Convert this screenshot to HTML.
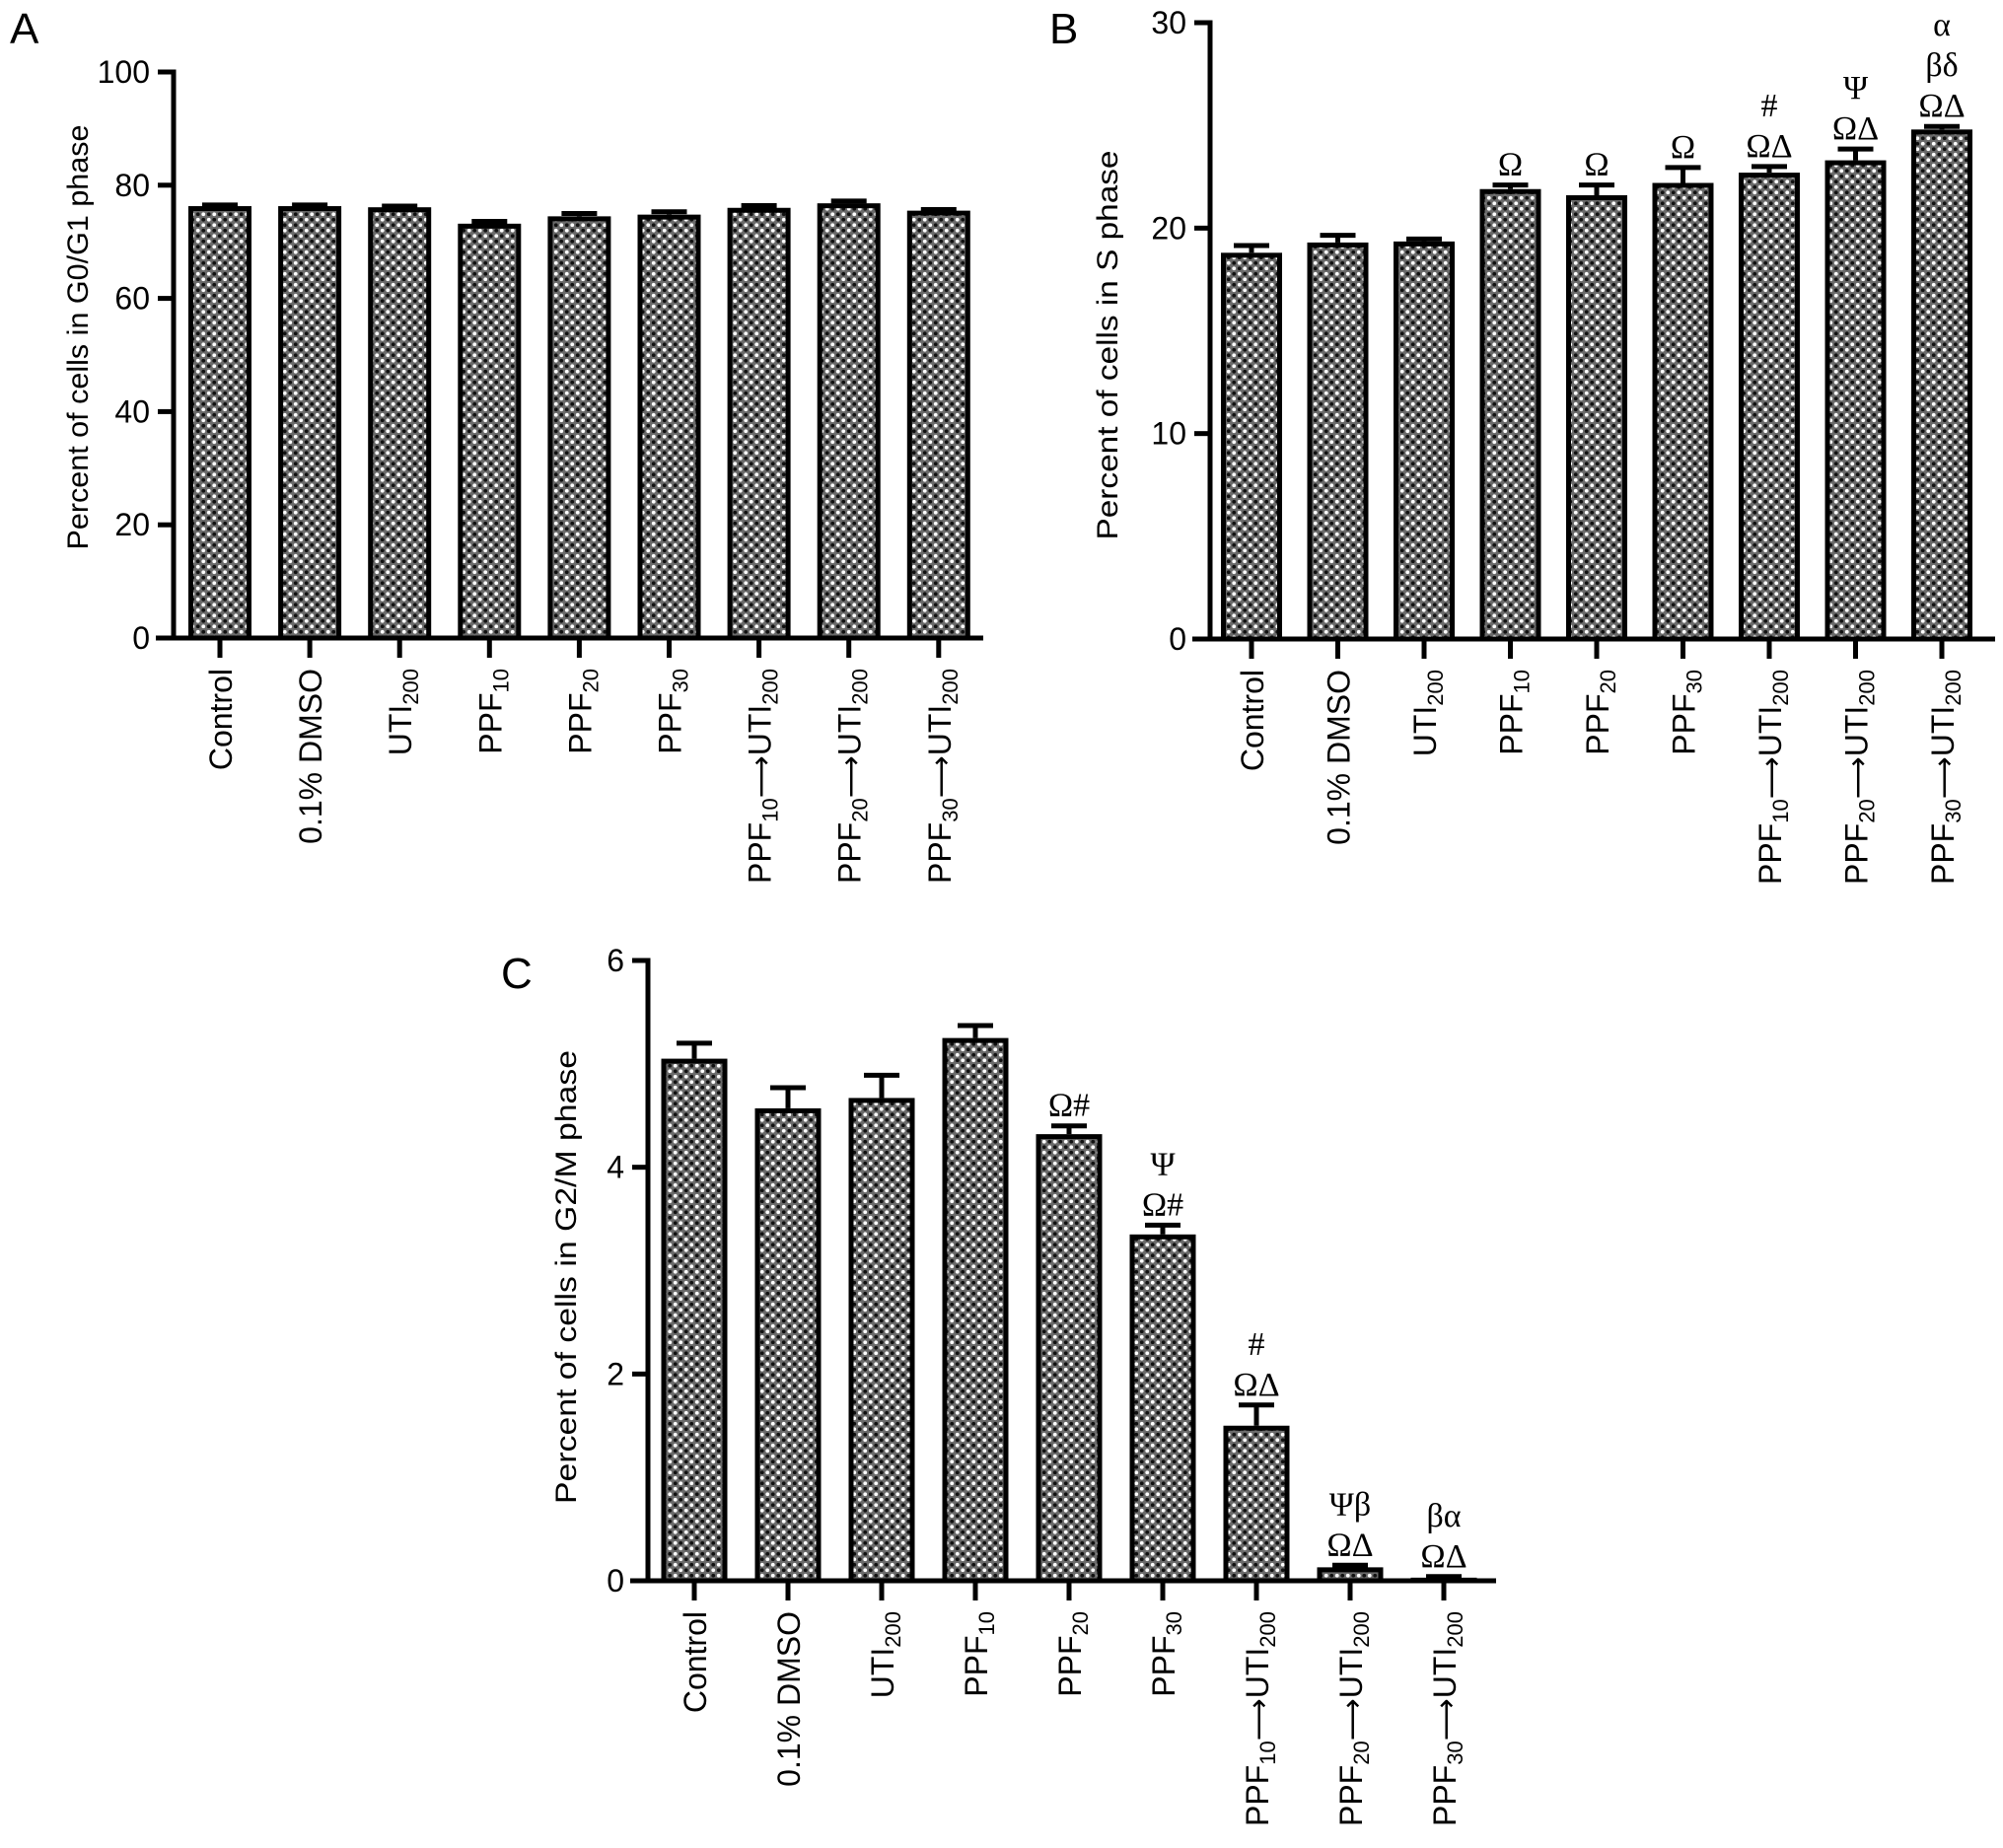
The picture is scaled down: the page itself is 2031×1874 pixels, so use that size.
<!DOCTYPE html>
<html><head><meta charset="utf-8">
<style>
html,body{margin:0;padding:0;background:#fff;}
svg{display:block;font-family:"Liberation Sans",Arial,sans-serif;}
</style></head>
<body>
<svg id="fig" width="2031" height="1874" viewBox="0 0 2031 1874" xmlns="http://www.w3.org/2000/svg">
<defs>
<pattern id="dots" patternUnits="userSpaceOnUse" width="11" height="11">
<rect width="11" height="11" fill="#6a6a6a"/>
<circle cx="2.75" cy="2.75" r="1.9" fill="#fff"/>
<circle cx="8.25" cy="8.25" r="1.9" fill="#fff"/>
<circle cx="8.25" cy="2.75" r="1.9" fill="#111"/>
<circle cx="2.75" cy="8.25" r="1.9" fill="#111"/>
</pattern>
</defs>
</svg>
<script>
const categories = [["Control"],["0.1% DMSO"],["UTI","200"],["PPF","10"],["PPF","20"],["PPF","30"],["PPF","10","→UTI","200"],["PPF","20","→UTI","200"],["PPF","30","→UTI","200"]];
const valuesA = [76.3, 76.3, 76.1, 73.2, 74.5, 74.8, 76.0, 76.8, 75.5];
const errorsA = [0.2, 0.2, 0.2, 0.4, 0.5, 0.5, 0.4, 0.4, 0.2];
const ticksA = [0, 20, 40, 60, 80, 100];
const valuesB = [18.8, 19.3, 19.35, 21.9, 21.6, 22.2, 22.7, 23.3, 24.8];
const errorsB = [0.35, 0.35, 0.12, 0.2, 0.5, 0.75, 0.3, 0.55, 0.15];
const ticksB = [0, 10, 20, 30];
const annotB = [[],[],[],["Ω"],["Ω"],["Ω"],["#","ΩΔ"],["Ψ","ΩΔ"],["α","βδ","ΩΔ"]];
const valuesC = [5.05, 4.57, 4.67, 5.25, 4.32, 3.35, 1.5, 0.13, 0.03];
const errorsC = [0.15, 0.2, 0.22, 0.12, 0.08, 0.09, 0.2, 0.02, 0.01];
const ticksC = [0, 2, 4, 6];
const annotC = [[],[],[],[],["Ω#"],["Ψ","Ω#"],["#","ΩΔ"],["Ψβ","ΩΔ"],["βα","ΩΔ"]];

const NS = "http://www.w3.org/2000/svg";
const svg = document.getElementById("fig");
function mk(tag, attrs, parent){
  const e = document.createElementNS(NS, tag);
  for (const k in attrs) e.setAttribute(k, attrs[k]);
  (parent||svg).appendChild(e);
  return e;
}

function panel(cfg){
  const g = mk("g", {});
  
  
  const ymin = cfg.ticks[0], ymax = cfg.ticks[cfg.ticks.length-1];
  const yScale = v => cfg.y0 - (v - ymin) / (ymax - ymin) * (cfg.y0 - cfg.yTop);
  const xScale = i => cfg.x1 + i * cfg.step;
  const L = mk("text", {x: cfg.letter[0], y: cfg.letter[1], "font-size": 44, fill: "#000"}, g);
  
  
  L.textContent = cfg.letterText;
  cfg.values.forEach((v, i) => {
    const cx = xScale(i), top = yScale(v), et = yScale(v + cfg.errors[i]);
    const w = cfg.barW;
    const eb = mk("line", {x1: cx, x2: cx, y1: top, y2: et, stroke: "#000", "stroke-width": 5}, g);
    
    
    const cap = mk("line", {x1: cx - 18, x2: cx + 18, y1: et, y2: et, stroke: "#000", "stroke-width": 5}, g);
    
    
    const r = mk("rect", {x: cx - w/2 + 2.5, y: top + 2.5, width: w - 5, height: Math.max(0, cfg.y0 - top - 2.5), fill: "url(#dots)", stroke: "#000", "stroke-width": 5}, g);
    
    
    if (cfg.annot) {
      const lines = cfg.annot[i];
      lines.forEach((t, j) => {
        const tx = mk("text", {x: cx, y: et - 10 - (lines.length - 1 - j) * 41, "font-size": 34, "text-anchor": "middle", "font-family": "Liberation Serif, serif", fill: "#000"}, g);
        
        
        tx.textContent = t;
      });
    }
    const xt = mk("line", {x1: cx, x2: cx, y1: cfg.y0, y2: cfg.y0 + 20, stroke: "#000", "stroke-width": 5}, g);
    
    
    const lx = cx + 12, ly = cfg.y0 + 31;
    const lab = mk("text", {transform: `translate(${lx},${ly}) rotate(-90)`, "text-anchor": "end", "font-size": 32, fill: "#000"}, g);
    
    
    categories[i].forEach((part, k) => {
      if (k % 2 === 1) {
        const ts = mk("tspan", {"font-size": 22, dy: 7}, lab);
        ts.textContent = part;
      } else if (k > 0) {
        const ar = mk("tspan", {dy: -7, "font-family": "DejaVu Sans, sans-serif", "font-size": 30}, lab);
        ar.textContent = "⟶";
        const ts = mk("tspan", {}, lab);
        ts.textContent = part.replace("→", "");
      } else {
        const ts = mk("tspan", {}, lab);
        ts.textContent = part;
      }
    });
  });
  const ya = mk("line", {x1: cfg.x0, x2: cfg.x0, y1: cfg.yTop - 2.5, y2: cfg.y0 + 2.5, stroke: "#000", "stroke-width": 5}, g);
  
  
  const xa = mk("line", {x1: cfg.x0 - 18, x2: cfg.xEnd, y1: cfg.y0, y2: cfg.y0, stroke: "#000", "stroke-width": 5}, g);
  
  
  cfg.ticks.forEach(t => {
    const y = yScale(t);
    const tk = mk("line", {x1: cfg.x0 - 16, x2: cfg.x0, y1: y, y2: y, stroke: "#000", "stroke-width": 5}, g);
    
    
    const tl = mk("text", {x: cfg.x0 - 24, y: y + 11, "font-size": 32, "text-anchor": "end", fill: "#000"}, g);
    
    
    tl.textContent = t;
  });
  const yl = mk("text", {transform: `translate(${cfg.yLabel[0]},${cfg.yLabel[1]}) rotate(-90)`, "text-anchor": "middle", "font-size": 30, fill: "#000", textLength: cfg.yLabel[2], lengthAdjust: "spacingAndGlyphs"}, g);
  
  
  yl.textContent = cfg.yTitle;
}

panel({name: "panel-a-g0g1", letterText: "A", letter: [10, 44], values: valuesA, errors: errorsA, ticks: ticksA,
  x0: 176, xEnd: 997, y0: 647, yTop: 73, x1: 223, step: 91.1, barW: 64,
  yTitle: "Percent of cells in G0/G1 phase", yLabel: [89, 342, 431]});
panel({name: "panel-b-s-phase", letterText: "B", letter: [1064, 44], values: valuesB, errors: errorsB, ticks: ticksB, annot: annotB,
  x0: 1227, xEnd: 2023, y0: 648, yTop: 23, x1: 1269, step: 87.5, barW: 62,
  yTitle: "Percent of cells in S phase", yLabel: [1133, 350, 395]});
panel({name: "panel-c-g2m", letterText: "C", letter: [508, 1002], values: valuesC, errors: errorsC, ticks: ticksC, annot: annotC,
  x0: 657, xEnd: 1517, y0: 1603, yTop: 974, x1: 704, step: 95, barW: 67,
  yTitle: "Percent of cells in G2/M phase", yLabel: [584, 1295, 460]});
</script>
</body></html>
